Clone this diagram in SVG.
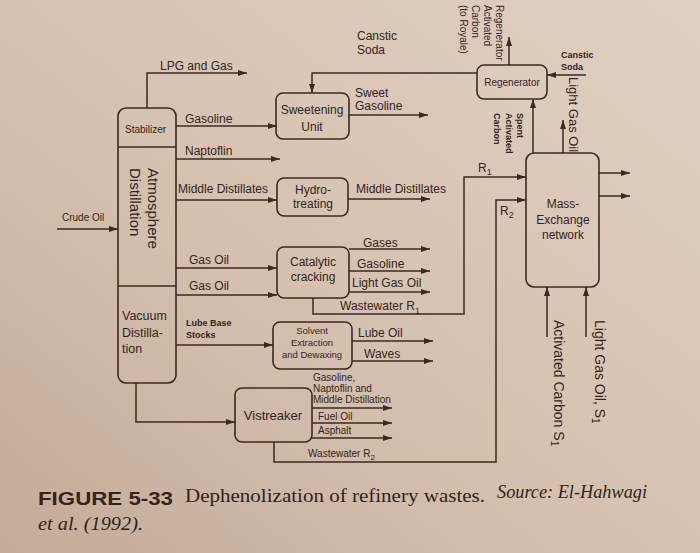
<svg xmlns="http://www.w3.org/2000/svg" width="700" height="553" viewBox="0 0 700 553">
<defs>
<linearGradient id="bg" x1="1" y1="0" x2="0" y2="1">
<stop offset="0" stop-color="#e0d0c2"/>
<stop offset="0.55" stop-color="#d6c1af"/>
<stop offset="1" stop-color="#c4ab98"/>
</linearGradient>
<marker id="ah" viewBox="0 0 9 6" refX="9" refY="3" markerWidth="9" markerHeight="6" markerUnits="userSpaceOnUse" orient="auto">
<path d="M0,0 L9,3 L0,6 z" fill="#3a2a23"/>
</marker>
<style>
.box{fill:none;stroke:#3a2a23;stroke-width:1.6}
.ln{fill:none;stroke:#3a2a23;stroke-width:1.5}
.ar{fill:none;stroke:#3a2a23;stroke-width:1.5;marker-end:url(#ah)}
text{font-family:"Liberation Sans",Arial,sans-serif;fill:#33241e}
.t12{font-size:12px}
.t13{font-size:13px}
.t10{font-size:10px}
.t9{font-size:9.5px}
.b9{font-size:9px;font-weight:bold}
.c{text-anchor:middle}
.cap{font-family:"Liberation Serif","Times New Roman",serif;font-size:19px;fill:#2e2420}
</style>
</defs>
<rect x="0" y="0" width="700" height="553" fill="url(#bg)"/>

<g id="connectors">
<path class="ar" d="M147,108 V73 H247"/>
<path class="ar" d="M176,126 H277"/>
<path class="ar" d="M176,159 H280"/>
<path class="ar" d="M176,200 H277"/>
<path class="ar" d="M176,268 H277"/>
<path class="ar" d="M176,295 H277"/>
<path class="ar" d="M176,345 H273"/>
<path class="ar" d="M57,229 H118"/>
<path class="ar" d="M136,383 V422 H235"/>
<path class="ar" d="M349,115 H428"/>
<path class="ar" d="M477,73 H312 V93"/>
<path class="ar" d="M509,65 V37"/>
<path class="ar" d="M586,75 H547"/>
<path class="ar" d="M533,153 V99"/>
<path class="ar" d="M563,153 V120"/>
<path class="ar" d="M599,173 H630"/>
<path class="ar" d="M599,196 H630"/>
<path class="ar" d="M313,298 V314 H464 V177 H526"/>
<path class="ar" d="M274,442 V462 H496 V200 H526"/>
<path class="ar" d="M348,199 H430"/>
<path class="ar" d="M349,249 H430"/>
<path class="ar" d="M349,271 H430"/>
<path class="ar" d="M349,292 H430"/>
<path class="ar" d="M352,341 H433"/>
<path class="ar" d="M352,361 H433"/>
<path class="ar" d="M312,408 H392"/>
<path class="ar" d="M312,423 H392"/>
<path class="ar" d="M312,438 H392"/>
<path class="ar" d="M547,337 V287"/>
<path class="ar" d="M586,337 V287"/>
</g>

<g id="labels">
<text class="t12" x="357" y="40">Canstic</text>
<text class="t12" x="357" y="54">Soda</text>
<text class="t12" x="160" y="70">LPG and Gas</text>
<text class="t12" x="355" y="97">Sweet</text>
<text class="t12" x="355" y="110">Gasoline</text>
<text class="t12" x="185" y="123">Gasoline</text>
<text class="t12" x="185" y="155">Naptoflin</text>
<text class="t12" x="178" y="193">Middle Distillates</text>
<text class="t12" x="356" y="193">Middle Distillates</text>
<text class="t10" x="62" y="221">Crude Oil</text>
<text class="t12" x="189" y="264">Gas Oil</text>
<text class="t12" x="189" y="290">Gas Oil</text>
<text class="t12" x="363" y="247">Gases</text>
<text class="t12" x="357" y="268">Gasoline</text>
<text class="t12" x="352" y="287">Light Gas Oil</text>
<text class="t12" x="340" y="310">Wastewater R<tspan font-size="9" dy="4">1</tspan></text>
<text class="b9" x="186" y="326">Lube Base</text>
<text class="b9" x="186" y="338">Stocks</text>
<text class="t12" x="358" y="337">Lube Oil</text>
<text class="t12" x="364" y="358">Waves</text>
<text class="t10" x="313" y="381">Gasoline,</text>
<text class="t10" x="313" y="392">Naptoflin and</text>
<text class="t10" x="313" y="403">Middle Distillation</text>
<text class="t10" x="318" y="420">Fuel Oil</text>
<text class="t10" x="318" y="434">Asphalt</text>
<text class="t10" x="308" y="457">Wastewater R<tspan font-size="8" dy="3">2</tspan></text>
<text class="b9" x="561" y="58">Canstic</text>
<text class="b9" x="561" y="70">Soda</text>
<g class="t10">
<text transform="translate(496,5) rotate(90)">Regenerator</text>
<text transform="translate(484,5) rotate(90)">Activated</text>
<text transform="translate(472,5) rotate(90)">Carbon</text>
<text transform="translate(460,5) rotate(90)">(to Royale)</text>
</g>
<g class="b9">
<text transform="translate(517,113) rotate(90)">Spent</text>
<text transform="translate(506,113) rotate(90)">Activated</text>
<text transform="translate(494,113) rotate(90)">Carbon</text>
</g>
<text class="t13" transform="translate(569,77) rotate(90)">Light Gas Oil</text>
<text class="t12" x="478" y="172">R<tspan font-size="9" dy="3">1</tspan></text>
<text class="t12" x="500" y="215">R<tspan font-size="9" dy="3">2</tspan></text>
<text font-size="14" transform="translate(554,320) rotate(90)">Activated Carbon S<tspan font-size="10" dy="3">1</tspan></text>
<text font-size="14" transform="translate(595,320) rotate(90)">Light Gas Oil, S<tspan font-size="10" dy="3">1</tspan></text>
</g>

<g id="column">
<rect class="box" x="118" y="108" width="58" height="275" rx="8"/>
<line class="ln" x1="118" y1="147" x2="176" y2="147"/>
<line class="ln" x1="118" y1="286" x2="176" y2="286"/>
</g>
<g id="stabilizer">
<text class="t10" x="125" y="133">Stabilizer</text>
</g>
<g id="atmosphere-distillation">
<text font-size="15" transform="translate(148,168) rotate(90)">Atmosphere</text>
<text font-size="15" transform="translate(130,168) rotate(90)">Distillation</text>
</g>
<g id="vacuum-distillation">
<text font-size="12.5" x="122" y="320">Vacuum</text>
<text font-size="12.5" x="122" y="337">Distilla-</text>
<text font-size="12.5" x="122" y="353">tion</text>
</g>
<g id="sweetening">
<rect class="box" x="276" y="93" width="73" height="46" rx="7"/>
<text class="t12 c" x="312" y="114">Sweetening</text>
<text class="t12 c" x="312" y="131">Unit</text>
</g>
<g id="hydrotreating">
<rect class="box" x="277" y="178" width="71" height="38" rx="7"/>
<text class="t12 c" x="313" y="194">Hydro-</text>
<text class="t12 c" x="313" y="208">treating</text>
</g>
<g id="catalytic-cracking">
<rect class="box" x="277" y="247" width="72" height="51" rx="7"/>
<text class="t12 c" x="313" y="266">Catalytic</text>
<text class="t12 c" x="313" y="281">cracking</text>
</g>
<g id="solvent-extraction">
<rect class="box" x="273" y="322" width="79" height="47" rx="7"/>
<text class="t9 c" x="312" y="334">Solvent</text>
<text class="t9 c" x="312" y="346">Extraction</text>
<text class="t9 c" x="312" y="358">and Dewaxing</text>
</g>
<g id="vistreaker">
<rect class="box" x="235" y="388" width="77" height="54" rx="7"/>
<text class="t13 c" x="273" y="420">Vistreaker</text>
</g>
<g id="regenerator">
<rect class="box" x="477" y="65" width="70" height="34" rx="7"/>
<text class="t10 c" x="512" y="86">Regenerator</text>
</g>
<g id="mass-exchange">
<rect class="box" x="526" y="153" width="73" height="134" rx="8"/>
<text class="t12 c" x="563" y="208">Mass-</text>
<text class="t12 c" x="563" y="224">Exchange</text>
<text class="t12 c" x="563" y="239">network</text>
</g>

<g id="caption">
<text x="38" y="505" font-size="19" font-weight="bold" textLength="135" lengthAdjust="spacingAndGlyphs" fill="#3a302c">FIGURE 5-33</text>
<text class="cap" x="185" y="502" textLength="300" lengthAdjust="spacingAndGlyphs">Dephenolization of refinery wastes.</text>
<text class="cap" x="497" y="498" font-style="italic" textLength="150" lengthAdjust="spacingAndGlyphs">Source: El-Hahwagi</text>
<text class="cap" x="38" y="530" font-style="italic" textLength="105" lengthAdjust="spacingAndGlyphs">et al. (1992).</text>
</g>
</svg>
